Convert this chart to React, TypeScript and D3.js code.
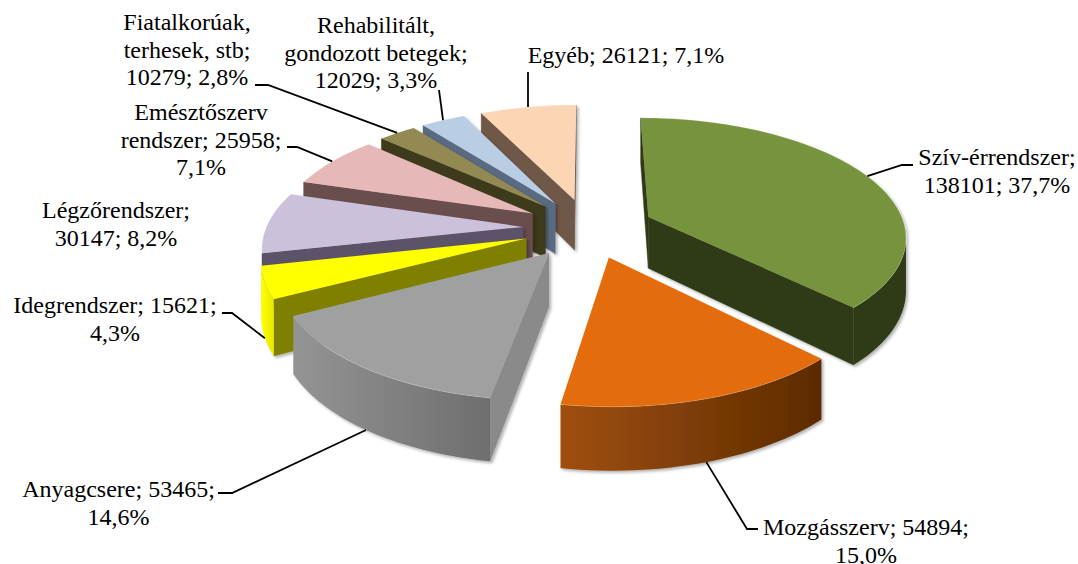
import { line, pie, range, scaleLinear } from "d3";

const categories = ["Szív-érrendszer", "Mozgásszerv", "Anyagcsere", "Idegrendszer", "Légzőrendszer", "Emésztőszerv rendszer", "Fiatalkorúak, terhesek, stb", "Rehabilitált, gondozott betegek", "Egyéb"];
const values = [138101, 54894, 53465, 15621, 30147, 25958, 10279, 12029, 26121];
const labelLines = [
  ["Szív-érrendszer;", "138101; 37,7%"],
  ["Mozgásszerv; 54894;", "15,0%"],
  ["Anyagcsere; 53465;", "14,6%"],
  ["Idegrendszer; 15621;", "4,3%"],
  ["Légzőrendszer;", "30147; 8,2%"],
  ["Emésztőszerv", "rendszer; 25958;", "7,1%"],
  ["Fiatalkorúak,", "terhesek, stb;", "10279; 2,8%"],
  ["Rehabilitált,", "gondozott betegek;", "12029; 3,3%"],
  ["Egyéb; 26121; 7,1%"],
];

const topColors = ["#77933c", "#e46c0a", "#a0a0a0", "#ffff00", "#ccc1da", "#e6b9b8", "#938953", "#b9cde5", "#fcd5b5"];
const wallColors = ["#2f3a17", "#7a3b05", "#8a8a8a", "#808000", "#5b5268", "#6b4d4d", "#3e3a1e", "#5a6b80", "#70594a"];
const rimStops = [
  ["#2f3a17", "#2f3a17"],
  ["#a04f0b", "#5c2b03"],
  ["#949494", "#6e6e6e"],
  ["#ffff00", "#e8e800"],
  ["#5b5268", "#5b5268"],
  ["#6b4d4d", "#6b4d4d"],
  ["#3e3a1e", "#3e3a1e"],
  ["#5a6b80", "#5a6b80"],
  ["#70594a", "#70594a"],
];

// label anchor x, first baseline y, then leader elbow points (empty = no leader)
const labelLayout = [
  { x: 997, y: 165, leader: [[902, 165], [913, 165]], wall: false },
  { x: 866, y: 535, leader: [[747, 529], [758, 529]], wall: true },
  { x: 118.5, y: 497, leader: [[232, 493], [218, 493]], wall: true },
  { x: 115, y: 313, leader: [[232, 313], [222, 313]], wall: true },
  { x: 116, y: 218, leader: [], wall: false },
  { x: 201, y: 120, leader: [[297, 147], [287, 147]], wall: false },
  { x: 187, y: 30, leader: [[268, 85], [255, 85]], wall: false },
  { x: 376, y: 33, leader: [[439, 90]], wall: false },
  { x: 626, y: 63, leader: [[528, 72]], wall: false },
];

const WIDTH = 1078;
const HEIGHT = 564;
const CX = 588.5;
const CY = 228;
const EXPLODE = 0.255;
const PERSPECTIVE = 0.15;
const DEPTH = 52;
const LINE_GAP = 27.5;

const xScale = scaleLinear().domain([0, 1]).range([CX, CX + 257]);
const zScale = scaleLinear().domain([0, 1]).range([CY, CY + 117]);
const perspective = (z: number) => 1 / (1 - PERSPECTIVE * z);

type Pt = [number, number];

// world point on the pie plane -> screen, drop = distance down the wall
function project(x: number, z: number, drop = 0): Pt {
  const s = perspective(z);
  return [xScale(x * s), zScale(z * s) + drop * DEPTH * s];
}

const arcs = pie<number>().sort(null).value((d) => d).startAngle(0).endAngle(Math.PI * 2)(values);
const path = line();
const area2 = (pts: Pt[]) => pts.reduce((sum, p, i) => {
  const q = pts[(i + 1) % pts.length];
  return sum + p[0] * q[1] - q[0] * p[1];
}, 0);

const slices = arcs.map((arc, i) => {
  const mid = (arc.startAngle + arc.endAngle) / 2;
  const ox = EXPLODE * Math.sin(mid);
  const oz = -EXPLODE * Math.cos(mid);
  const rim = (a: number, drop = 0) => project(ox + Math.sin(a), oz - Math.cos(a), drop);
  const steps = Math.max(6, Math.ceil((arc.endAngle - arc.startAngle) / 0.03));
  const angles = range(steps + 1).map((k) => arc.startAngle + ((arc.endAngle - arc.startAngle) * k) / steps);
  const apex = project(ox, oz);
  const apexLow = project(ox, oz, 1);

  const top = [apex, ...angles.map((a) => rim(a))];
  const startWall: Pt[] = [apex, rim(arc.startAngle), rim(arc.startAngle, 1), apexLow];
  const endWall: Pt[] = [apex, apexLow, rim(arc.endAngle, 1), rim(arc.endAngle)];
  const walls = [startWall, endWall].filter((w) => area2(w) < 0);

  // only the part of the outer wall that turns toward the viewer
  const front = angles.filter((a, k) => {
    const b = angles[Math.min(k + 1, steps)];
    const c = angles[Math.max(k - 1, 0)];
    const [p, q] = b > a ? [a, b] : [c, a];
    return area2([rim(p), rim(p, 1), rim(q, 1), rim(q)]) > 0;
  });
  const outer = front.length > 1 ? [...front.map((a) => rim(a)), ...[...front].reverse().map((a) => rim(a, 1))] : null;

  return { i, oz, apex, top, walls, outer, rim, mid, rimArc: angles.map((a) => rim(a)) };
});

const drawOrder = [...slices].sort((a, b) => a.oz - b.oz);

export default function App() {
  return (
    <svg width={WIDTH} height={HEIGHT} viewBox={`0 0 ${WIDTH} ${HEIGHT}`} style={{ position: "absolute", left: 0, top: 0, background: "#fff" }} role="img" aria-label={categories.join(", ")}>
      <defs>
        <filter id="softShadow" x="-20%" y="-20%" width="140%" height="140%">
          <feDropShadow dx="2" dy="2" stdDeviation="1.6" floodColor="#000" floodOpacity="0.3" />
        </filter>
        {rimStops.map((stops, i) => (
          <linearGradient key={i} id={`rim${i}`} x1="0" x2="1" y1="0" y2="0">
            <stop offset="0" stopColor={stops[0]} />
            <stop offset="1" stopColor={stops[1]} />
          </linearGradient>
        ))}
      </defs>
      {drawOrder.map((s) => (
        <g key={s.i} filter="url(#softShadow)">
          {s.walls.map((w, k) => (
            <path key={k} d={`${path(w)}Z`} fill={wallColors[s.i]} stroke={wallColors[s.i]} strokeWidth="0.4" />
          ))}
          {s.outer ? <path d={`${path(s.outer)}Z`} fill={`url(#rim${s.i})`} /> : null}
          <path d={`${path(s.top)}Z`} fill={topColors[s.i]} />
          <path d={path(s.rimArc) ?? ""} fill="none" stroke="#fff" strokeOpacity="0.3" strokeWidth="0.7" />
        </g>
      ))}
      {slices.map((s) => {
        const layout = labelLayout[s.i];
        if (!layout.leader.length) return null;
        const anchor = s.rim(s.mid, layout.wall ? 1 : 0);
        return <path key={s.i} d={path([anchor, ...(layout.leader as Pt[])]) ?? ""} fill="none" stroke="#000" strokeWidth="1.8" />;
      })}
      {labelLines.map((rows, i) => (
        <text key={i} textAnchor="middle" fontFamily="'Liberation Serif', serif" fontSize="24" fill="#000">
          {rows.map((row, k) => (
            <tspan key={k} x={labelLayout[i].x} y={labelLayout[i].y + k * LINE_GAP}>{row}</tspan>
          ))}
        </text>
      ))}
    </svg>
  );
}
